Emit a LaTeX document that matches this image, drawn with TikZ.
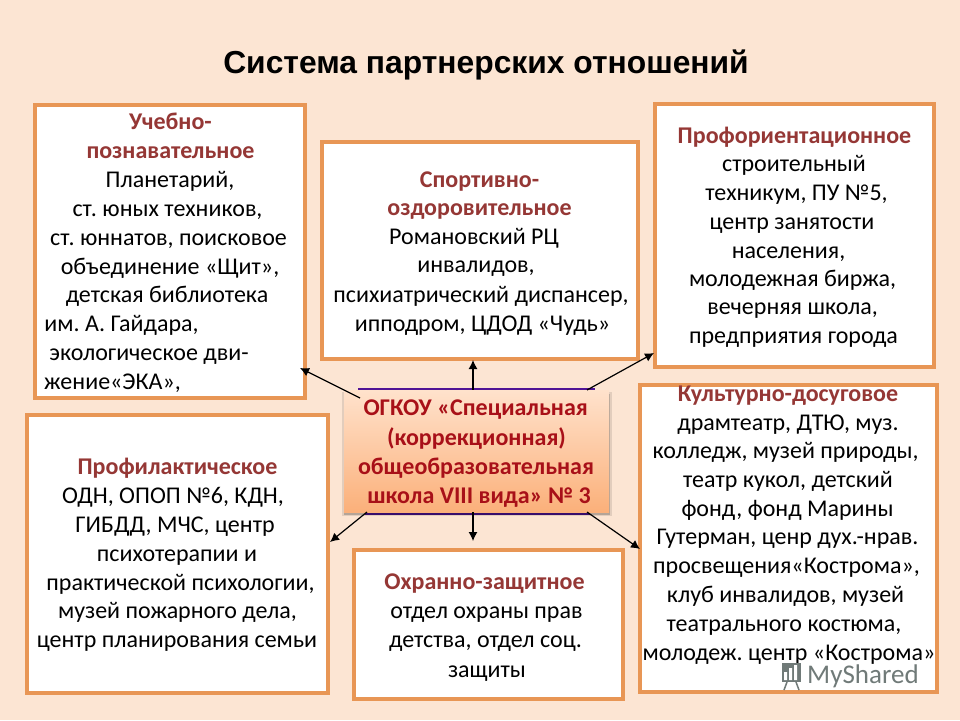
\documentclass[tikz,border=0pt]{standalone}
\usepackage{fontspec}
\setmainfont{Carlito}
\newfontfamily\titlefont{Liberation Sans}
\usetikzlibrary{arrows.meta}
\definecolor{pagebg}{RGB}{252,229,211}
\definecolor{boxedge}{RGB}{232,150,85}
\definecolor{headred}{RGB}{149,55,53}
\definecolor{schoolred}{RGB}{168,16,24}
\definecolor{purp}{RGB}{80,20,150}
\definecolor{gradtop}{RGB}{255,226,204}
\definecolor{gradbot}{RGB}{251,176,122}
\definecolor{wm}{RGB}{112,122,120}
\tikzset{
  panel/.style={draw=boxedge,line width=4pt,fill=white,inner sep=0pt},
  bodyline/.style={anchor=base,inner sep=0pt,font=\fontsize{24}{26}\selectfont\frenchspacing,text=black},
  headline/.style={bodyline,font=\fontsize{24}{26}\selectfont\bfseries,text=headred},
  schoolline/.style={anchor=base,inner sep=0pt,font=\fontsize{24}{26}\selectfont\bfseries,text=schoolred},
  link/.style={draw=black,line width=1.2pt,-{Latex[length=9pt,width=9pt]}},
  wmtext/.style={anchor=base west,inner sep=0pt,font=\fontsize{27}{28}\selectfont,text=wm},
}
\newcommand{\bd}[4]{\node[bodyline] (#1) at (#2,#3) {#4};}
\newcommand{\hd}[4]{\node[headline] (#1) at (#2,#3) {#4};}
\newcommand{\sch}[4]{\node[schoolline] (#1) at (#2,#3) {#4};}
\begin{document}
\begin{tikzpicture}[x=1pt,y=-1pt]
\useasboundingbox (0,0) rectangle (960,720);
\fill[pagebg] (0,0) rectangle (960,720);
\node[anchor=base,inner sep=0pt,font=\titlefont\fontsize{31.8}{34}\selectfont\bfseries] (title) at (486,73) {Система партнерских отношений};

\draw[panel] (34.5,104.5) rectangle (305,398);
\coordinate (b1tip) at (300,368);
\draw[panel] (322,142) rectangle (638,359);
\coordinate (b2tip) at (473,360);
\draw[panel] (655,104) rectangle (934,367);
\coordinate (b3tip) at (654,353);
\draw[panel] (27,415) rectangle (328,693);
\coordinate (b4tip) at (330,542);
\draw[panel] (354,550) rectangle (623,699);
\coordinate (b5tip) at (473,541);
\draw[panel] (640,385) rectangle (937,692);
\coordinate (b6tip) at (640,549);

% box 1
\hd{a1}{170.5}{129}{Учебно-}
\hd{a2}{170.5}{158}{познавательное}
\bd{a3}{170}{187}{Планетарий,}
\bd{a4}{167.5}{216}{ст. юных техников,}
\bd{a5}{168.5}{245}{ст. юннатов, поисковое}
\bd{a6}{170}{274}{объединение «Щит»,}
\bd{a7}{167}{302}{детская библиотека}
\bd{a8}{121.5}{331}{им. А. Гайдара,}
\bd{a9}{149}{360}{экологическое дви-}
\bd{a10}{112.5}{389}{жение«ЭКА»,}
% box 2
\hd{s1}{479.5}{187}{Спортивно-}
\hd{s2}{479.5}{215}{оздоровительное}
\bd{s3}{474}{244}{Романовский РЦ}
\bd{s4}{476}{272}{инвалидов,}
\bd{s5}{481}{302}{психиатрический диспансер,}
\bd{s6}{482.5}{331}{ипподром, ЦДОД «Чудь»}
% box 3
\hd{p1}{794.5}{143}{Профориентационное}
\bd{p2}{794}{171}{строительный}
\bd{p3}{796.5}{200}{техникум, ПУ №5,}
\bd{p4}{792}{229}{центр занятости}
\bd{p5}{788.5}{258}{населения,}
\bd{p6}{792.5}{286}{молодежная биржа,}
\bd{p7}{792.5}{314}{вечерняя школа,}
\bd{p8}{793.5}{343}{предприятия города}
% box 4
\hd{f1}{177.5}{474}{Профилактическое}
\bd{f2}{173}{503}{ОДН, ОПОП №6, КДН,}
\bd{f3}{175}{532}{ГИБДД, МЧС, центр}
\bd{f4}{177}{561}{психотерапии и}
\bd{f5}{180.5}{590}{практической психологии,}
\bd{f6}{177.5}{618}{музей пожарного дела,}
\bd{f7}{177}{647}{центр планирования семьи}
% box 5
\hd{o1}{484.5}{589}{Охранно-защитное}
\bd{o2}{486.5}{618}{отдел охраны прав}
\bd{o3}{485.5}{647}{детства, отдел соц.}
\bd{o4}{487}{677}{защиты}
% box 6
\hd{k1}{788}{401}{Культурно-досуговое}
\bd{k2}{788}{430}{драмтеатр, ДТЮ, муз.}
\bd{k3}{785.5}{458}{колледж, музей природы,}
\bd{k4}{788}{487}{театр кукол, детский}
\bd{k5}{787.5}{516}{фонд, фонд Марины}
\bd{k6}{787.5}{544}{Гутерман, ценр дух.-нрав.}
\bd{k7}{786.5}{573}{просвещения«Кострома»,}
\bd{k8}{785.5}{602}{клуб инвалидов, музей}
\bd{k9}{784}{631}{театрального костюма,}
\bd{k10}{789}{660}{молодеж. центр «Кострома»}

% watermark
\fill[wm] (782,663) rectangle (801,682);
\fill[white] (784,672) rectangle (787,680) (789,668) rectangle (792,680) (794,665) rectangle (797,680);
\draw[wm,line width=1.5pt] (787,682) -- (784,690) (796,682) -- (799,690);
\node[wmtext] (mark) at (807,683) {MyShared};

% central node
\draw[purp,line width=2pt] (358,388.5) -- (595,388.5);
\draw[purp,line width=2pt] (365,513.5) -- (590,513.5);
\fill[black,opacity=.10] (342,392) rectangle (612,516);
\fill[black,opacity=.20] (344,394) rectangle (610,515);
\node[top color=gradtop,bottom color=gradbot,minimum width=265pt,minimum height=122pt,inner sep=0pt] (hub) at (476.5,451) {};
\sch{h1}{475.7}{415}{ОГКОУ «Специальная}
\sch{h2}{476.5}{445}{(коррекционная)}
\sch{h3}{476}{474}{общеобразовательная}
\sch{h4}{479}{503}{школа VIII вида» № 3}

% connectors
\coordinate (hA) at (360,398);
\coordinate (hC) at (587,390);
\coordinate (hD) at (367,512);
\coordinate (hF) at (587,512);
\draw[link] (hA) -- (b1tip);
\draw[link] (hub.north -| b2tip) -- (b2tip);
\draw[link] (hC) -- (b3tip);
\draw[link] (hD) -- (b4tip);
\draw[link] (hub.south -| b5tip) -- (b5tip);
\draw[link] (hF) -- (b6tip);
\end{tikzpicture}
\end{document}
